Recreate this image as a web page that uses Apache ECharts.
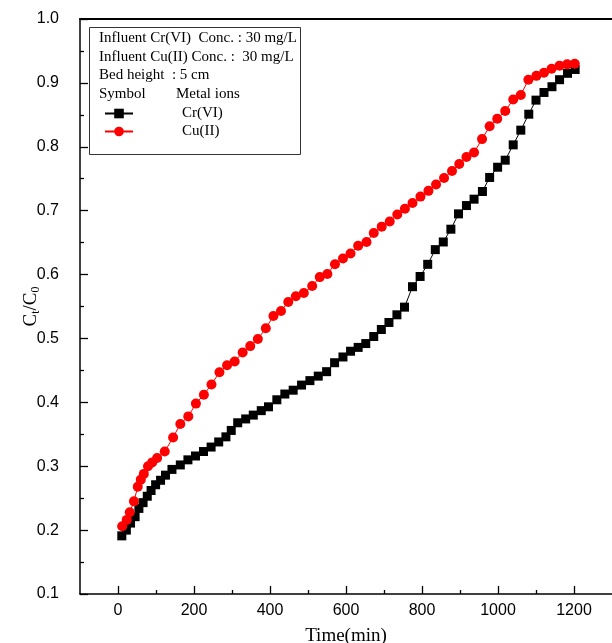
<!DOCTYPE html>
<html>
<head>
<meta charset="utf-8">
<script src="https://cdn.jsdelivr.net/npm/echarts@6/dist/echarts.min.js"></script>
<style>
html,body{margin:0;padding:0;background:#fff;}
#chart{width:612px;height:643px;}
</style>
</head>
<body>
<div id="chart"></div>
<script>
// ---- data ----
var crTime = [10,22,33,45,55,66,77,87,99,112,125,142,164,184,204,225,245,265,284,298,315,336,356,377,396,418,439,461,483,505,527,549,570,592,612,632,652,673,693,713,734,754,775,795,815,835,856,876,896,917,937,959,978,999,1019,1040,1060,1081,1100,1121,1142,1162,1183,1203];
var crVal = [0.191,0.200,0.211,0.221,0.234,0.243,0.253,0.262,0.271,0.278,0.286,0.295,0.302,0.310,0.316,0.323,0.330,0.338,0.346,0.356,0.368,0.374,0.380,0.387,0.393,0.404,0.413,0.419,0.427,0.434,0.441,0.448,0.462,0.471,0.480,0.486,0.492,0.503,0.514,0.525,0.537,0.549,0.581,0.597,0.616,0.639,0.651,0.671,0.695,0.708,0.718,0.730,0.752,0.768,0.779,0.803,0.826,0.851,0.873,0.885,0.894,0.905,0.915,0.921];
var cuTime = [11,23,31,42,52,60,68,79,90,103,123,145,164,185,205,226,246,267,287,307,328,348,368,389,409,429,448,468,489,511,531,551,571,592,612,632,654,673,694,715,735,755,775,796,817,837,858,879,898,917,937,958,978,998,1019,1040,1060,1080,1101,1121,1141,1162,1182,1202];
var cuVal = [0.206,0.216,0.228,0.245,0.268,0.279,0.288,0.300,0.306,0.313,0.323,0.345,0.366,0.378,0.398,0.412,0.428,0.447,0.458,0.464,0.478,0.488,0.499,0.516,0.535,0.543,0.557,0.566,0.571,0.582,0.596,0.601,0.616,0.625,0.633,0.645,0.651,0.665,0.675,0.683,0.694,0.703,0.712,0.722,0.731,0.741,0.751,0.762,0.773,0.784,0.791,0.812,0.832,0.844,0.856,0.874,0.881,0.905,0.911,0.916,0.922,0.927,0.929,0.930];
var xMajorTicks = [0,200,400,600,800,1000,1200];
var xMinorTicks = [100,300,500,700,900,1100];
var seriesNames = ['Cr(VI)','Cu(II)'];
var infoLines = ['Influent Cr(VI)  Conc. : 30 mg/L','Influent Cu(II) Conc. :  30 mg/L','Bed height  : 5 cm'];

function zip(a,b){var r=[];for(var i=0;i<a.length;i++)r.push([a[i],b[i]]);return r;}

var serif = 'Liberation Serif, Times New Roman, serif';
var sans = 'Liberation Sans, Arial, sans-serif';

var chart = echarts.init(document.getElementById('chart'), null, {renderer:'canvas'});
var option = {
  animation:false,
  backgroundColor:'#fff',
  grid:{left:80,right:0,top:19,bottom:49,outerBoundsMode:'none',containLabel:false},
  legend:{
    orient:'vertical', left:99, top:101, itemWidth:28, itemHeight:12, itemGap:3,
    data:seriesNames,
    textStyle:{fontFamily:serif,fontSize:15,color:'#000',padding:[0,0,0,44]}
  },
  xAxis:[
    {type:'value',min:-100,max:1300,position:'bottom',
     axisLine:{show:true,onZero:false,lineStyle:{color:'#000',width:1.5}},
     axisTick:{show:true,inside:true,length:8,customValues:xMajorTicks,lineStyle:{color:'#000',width:1.3}},
     axisLabel:{customValues:xMajorTicks,formatter:function(v){return String(v);},fontFamily:sans,fontSize:16,color:'#000',margin:9},
     splitLine:{show:false},
     name:'Time(min)',nameLocation:'middle',nameGap:33,nameMoveOverlap:false,
     nameTextStyle:{fontFamily:serif,fontSize:19,color:'#000'}},
    {type:'value',min:-100,max:1300,position:'bottom',
     axisLine:{show:false,onZero:false},
     axisTick:{show:true,inside:true,length:4,customValues:xMinorTicks,lineStyle:{color:'#000',width:1.3}},
     axisLabel:{show:false},splitLine:{show:false}},
    {type:'value',min:-100,max:1300,position:'top',
     axisLine:{show:true,onZero:false,lineStyle:{color:'#000',width:2}},
     axisTick:{show:false},axisLabel:{show:false},splitLine:{show:false}}
  ],
  yAxis:{type:'value',min:0.1,max:1.0,interval:0.1,position:'left',
    axisLine:{show:true,onZero:false,lineStyle:{color:'#000',width:1.5}},
    axisTick:{show:true,inside:true,length:8,lineStyle:{color:'#000',width:1.3}},
    minorTick:{show:true,splitNumber:2,length:4,lineStyle:{color:'#000',width:1.3}},
    axisLabel:{formatter:function(v){return v.toFixed(1);},fontFamily:sans,fontSize:16,color:'#000',margin:21},
    splitLine:{show:false},
    name:'{m|C}{s|t}{m|/C}{s|0}',nameLocation:'middle',nameRotate:90,nameGap:38,nameMoveOverlap:false,
    nameTextStyle:{color:'#000',rich:{
      m:{fontFamily:serif,fontSize:19,color:'#000'},
      s:{fontFamily:serif,fontSize:12,color:'#000',padding:[9,0,0,0]}
    }}
  },
  series:[
    {name:seriesNames[0],type:'line',xAxisIndex:0,data:zip(crTime,crVal),
     symbol:'rect',symbolSize:9,itemStyle:{color:'#000'},lineStyle:{color:'#000',width:1},z:2},
    {name:seriesNames[1],type:'line',xAxisIndex:0,data:zip(cuTime,cuVal),
     symbol:'circle',symbolSize:10,itemStyle:{color:'#ff0000'},lineStyle:{color:'#ff0000',width:1},z:3}
  ],
  graphic:[
    {type:'rect',left:89,top:27,shape:{width:211,height:127},style:{fill:'#fff',stroke:'#333',lineWidth:1},z:-1},
    {type:'text',left:99,top:31,style:{text:infoLines[0],font:'15px '+serif,fill:'#000'}},
    {type:'text',left:99,top:50,style:{text:infoLines[1],font:'15px '+serif,fill:'#000'}},
    {type:'text',left:99,top:68,style:{text:infoLines[2],font:'15px '+serif,fill:'#000'}},
    {type:'text',left:99,top:87,style:{text:'Symbol',font:'15px '+serif,fill:'#000'}},
    {type:'text',left:176,top:87,style:{text:'Metal ions',font:'15px '+serif,fill:'#000'}}
  ]
};
chart.setOption(option);
</script>
</body>
</html>
